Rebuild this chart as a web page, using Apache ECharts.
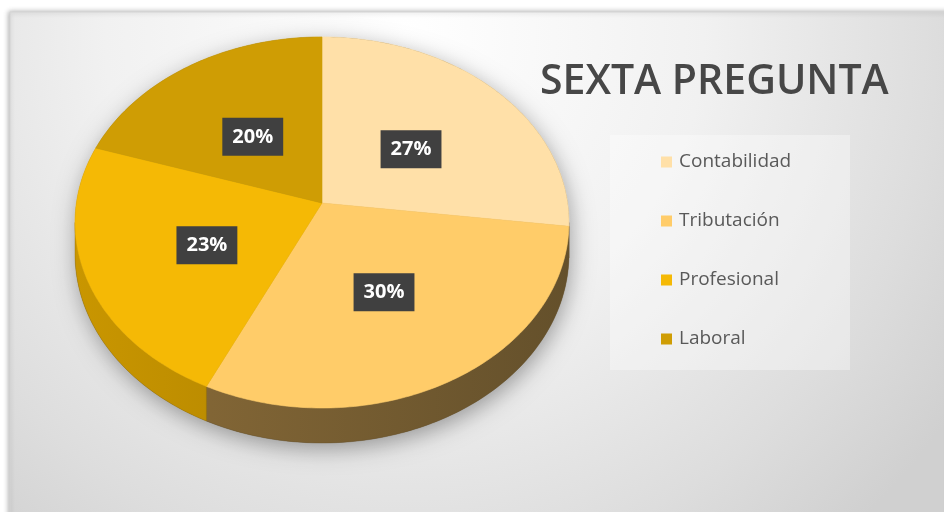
<!DOCTYPE html>
<html><head><meta charset="utf-8">
<script src="https://cdn.jsdelivr.net/npm/echarts@6/dist/echarts.min.js"></script>
<style>html,body{margin:0;padding:0;background:#fff}#c{width:944px;height:512px}</style>
</head><body><div id="c"></div>
<script>
// ---- data ----
const categories = ['Contabilidad', 'Tributación', 'Profesional', 'Laboral'];
const values = [27, 30, 23, 20];
const titleText = 'SEXTA PREGUNTA';

// ---- styles ----
const faceColors = ['#FFE0A8', '#FFCC69', '#F5B905', '#CF9D04'];
const sideColors = [['#9a7c45', '#6a5230'], ['#8c6d39', '#64502b'], ['#c99600', '#9c7400'], ['#a07800', '#7a5c00']];

// projection of the tilted pie (perspective)
const CX = 322, CY = 203, SX = 245.6, SY = 183.5, P = 0.105, D = 31.3;
const VIS0 = Math.acos(-P), VIS1 = 2 * Math.PI - Math.acos(-P);
function proj(f, th, drop) {
  const X = f * Math.sin(th), Y = f * Math.cos(th);
  const w = 1 + P * Y;
  return [CX + SX * X / w, CY - SY * Y / w + (drop ? D / w : 0)];
}
function arc(a0, a1, drop) {
  const pts = [];
  const n = Math.max(2, Math.ceil((a1 - a0) / (Math.PI / 180)));
  for (let k = 0; k <= n; k++) pts.push(proj(1, a0 + (a1 - a0) * k / n, drop));
  return pts;
}
const total = values.reduce((a, b) => a + b, 0);

function renderSlice(params, api) {
  const i = params.seriesIndex;
  let before = 0;
  for (let k = 0; k < i; k++) before += values[k];
  const v = api.value(0);
  const a0 = before / total * 2 * Math.PI, a1 = (before + v) / total * 2 * Math.PI;
  const children = [];
  if (i === 0) {
    // shadow base under the whole pie
    const base = arc(VIS1 - 2 * Math.PI, VIS0, false).concat(arc(VIS0, VIS1, true));
    children.push({type: 'polygon', z2: 0, shape: {points: base},
      style: {fill: '#7a6a50', shadowBlur: 22, shadowColor: 'rgba(0,0,0,0.35)', shadowOffsetY: 6, shadowOffsetX: 2}});
  }
  const s0 = Math.max(a0, VIS0), s1 = Math.min(a1, VIS1);
  if (s1 > s0) {
    const top = arc(s0, s1, false);
    const bot = arc(s0, s1, true).reverse();
    children.push({type: 'polygon', z2: 1, shape: {points: top.concat(bot)},
      style: {fill: {type: 'linear', x: 75, y: 0, x2: 570, y2: 0, global: true,
        colorStops: [{offset: 0, color: sideColors[i][0]}, {offset: 1, color: sideColors[i][1]}]},
        stroke: sideColors[i][1], lineWidth: 0.4}});
  }
  const face = [proj(0, 0)].concat(arc(a0, a1, false));
  children.push({type: 'polygon', z2: 10, shape: {points: face},
    style: {fill: faceColors[i], stroke: faceColors[i], lineWidth: 0.6}});
  const mid = (a0 + a1) / 2;
  const lp = proj(0.5, mid);
  children.push({type: 'text', z2: 20, x: lp[0], y: lp[1] + 5,
    style: {text: Math.round(v / total * 100) + '%', fill: '#ffffff', font: 'bold 20px "Open Sans"',
      align: 'center', verticalAlign: 'middle', backgroundColor: '#404040', padding: [9, 10, 9, 10],
      boxShadowBlur: 5, boxShadowColor: 'rgba(0,0,0,0.45)', boxShadowOffsetX: 2, boxShadowOffsetY: 2}});
  return {type: 'group', children};
}

const chart = echarts.init(document.getElementById('c'), null, {renderer: 'canvas'});
chart.setOption({
  animation: false,
  backgroundColor: '#ffffff',
  graphic: [
    {type: 'rect', z: -10, silent: true, shape: {x: 10, y: 12, width: 940, height: 510},
      style: {fill: {type: 'radial', x: 0.42, y: 0.05, r: 1.3,
        colorStops: [{offset: 0, color: '#ffffff'}, {offset: 0.45, color: '#f1f1f1'}, {offset: 0.8, color: '#dddddd'}, {offset: 1, color: '#d0d0d0'}]},
        stroke: '#d4d4d4', lineWidth: 1, shadowBlur: 5, shadowColor: 'rgba(0,0,0,0.3)', shadowOffsetX: -1}},
    {type: 'rect', z: -5, silent: true, shape: {x: 610, y: 135, width: 240, height: 235},
      style: {fill: 'rgba(255,255,255,0.35)'}}
  ],
  title: {text: titleText, left: 540, top: 62, padding: 0,
    textStyle: {fontFamily: 'Open Sans', fontWeight: 600, fontSize: 41, lineHeight: 41, color: '#474747'}},
  legend: {orient: 'vertical', left: 661, top: 152, padding: 0, icon: 'rect', itemWidth: 11, itemHeight: 11,
    itemGap: 39, selectedMode: false,
    data: categories.map((n, i) => ({name: n, itemStyle: {color: faceColors[i]}})),
    textStyle: {fontFamily: 'Open Sans', fontSize: 19, lineHeight: 20, color: '#595959', padding: [0, 0, 0, 2]}},
  series: categories.map((name, i) => ({
    type: 'custom', name, coordinateSystem: 'none', silent: true,
    itemStyle: {color: faceColors[i]},
    renderItem: renderSlice,
    data: [[values[i]]]
  }))
});
</script></body></html>
